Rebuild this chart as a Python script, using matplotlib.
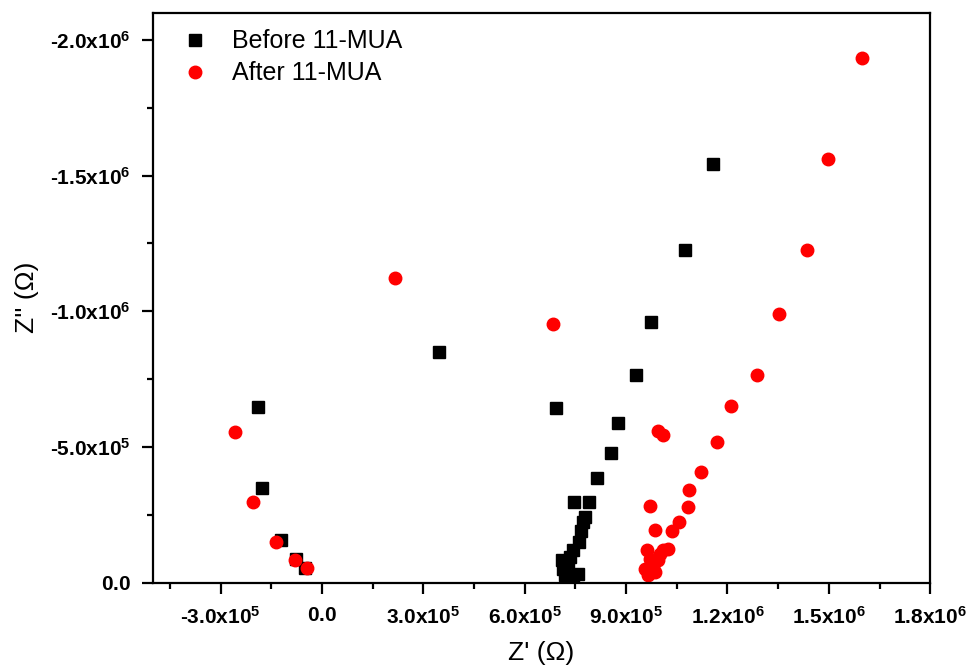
import matplotlib
matplotlib.use("Agg")
import matplotlib.pyplot as plt
from matplotlib.ticker import FixedLocator, FuncFormatter

plt.rcParams['font.family'] = ['Liberation Sans', 'DejaVu Sans']
plt.rcParams['mathtext.fontset'] = 'custom'
plt.rcParams['mathtext.rm'] = 'Liberation Sans'
plt.rcParams['mathtext.bf'] = 'Liberation Sans:bold'

# Before 11-MUA (Z' , Z'' in ohm)
before_zr = [-1.90e5, -1.76e5, -1.21e5, -7.75e4, -5.0e4, 3.46e5, 6.92e5,
             1.157e6, 1.074e6, 9.74e5, 9.30e5, 8.77e5, 8.54e5, 8.15e5,
             7.47e5, 7.91e5, 7.78e5, 7.72e5, 7.67e5, 7.62e5, 7.44e5,
             7.34e5, 7.29e5, 7.09e5, 7.14e5, 7.19e5, 7.44e5, 7.59e5]
before_zi = [-6.47e5, -3.49e5, -1.59e5, -8.8e4, -5.5e4, -8.49e5, -6.42e5,
             -1.544e6, -1.224e6, -9.6e5, -7.65e5, -5.88e5, -4.78e5, -3.87e5,
             -2.99e5, -2.99e5, -2.42e5, -2.23e5, -1.92e5, -1.50e5, -1.19e5,
             -9.6e4, -7.6e4, -8.2e4, -5.1e4, -2.7e4, -2.1e4, -3.3e4]

# After 11-MUA
after_zr = [-2.58e5, -2.03e5, -1.37e5, -7.96e4, -4.5e4, 2.16e5, 6.84e5,
            1.598e6, 1.498e6, 1.435e6, 1.352e6, 1.287e6, 1.210e6, 1.168e6,
            1.122e6, 1.087e6, 1.082e6, 1.057e6, 9.95e5, 1.010e6, 9.71e5,
            9.86e5, 1.035e6, 1.025e6, 1.010e6, 9.63e5, 9.95e5, 9.71e5,
            9.56e5, 9.80e5, 9.66e5, 9.86e5, 9.73e5, 1.0e6]
after_zi = [-5.56e5, -2.97e5, -1.50e5, -8.5e4, -5.5e4, -1.121e6, -9.52e5,
            -1.934e6, -1.562e6, -1.224e6, -9.89e5, -7.65e5, -6.50e5, -5.19e5,
            -4.07e5, -3.42e5, -2.78e5, -2.25e5, -5.60e5, -5.44e5, -2.84e5,
            -1.96e5, -1.89e5, -1.25e5, -1.19e5, -1.22e5, -8.2e4, -8.8e4,
            -5.1e4, -5.8e4, -2.7e4, -3.9e4, -6.4e4, -1.07e5]

x_major = [-3e5, 0, 3e5, 6e5, 9e5, 1.2e6, 1.5e6, 1.8e6]
x_minor = [-4.5e5, -1.5e5, 1.5e5, 4.5e5, 7.5e5, 1.05e6, 1.35e6, 1.65e6]
y_major = [0, -5e5, -1e6, -1.5e6, -2e6]
y_minor = [-2.5e5, -7.5e5, -1.25e6, -1.75e6]


def sci(v, pos=None):
    if v == 0:
        return r'$\mathbf{0.0}$'
    exp = 0
    m = abs(v)
    while m >= 10:
        m /= 10
        exp += 1
    sign = '\u2010' if v < 0 else ''
    return r'$\mathbf{%s%.1fx10^{%d}}$' % (sign, m, exp)


fig = plt.figure(figsize=(9.68, 6.66), dpi=100)
ax = fig.add_axes([0.158, 0.125, 0.803, 0.856])

ax.plot(before_zr, before_zi, 's', color='black', ms=8, mec='black',
        label='Before 11-MUA')
ax.plot(after_zr, after_zi, 'o', color='red', ms=9, mec='red',
        label='After 11-MUA')

ax.set_xlim(-5e5, 1.8e6)
ax.set_ylim(0, -2.1e6)

ax.xaxis.set_major_locator(FixedLocator(x_major))
ax.xaxis.set_minor_locator(FixedLocator(x_minor))
ax.yaxis.set_major_locator(FixedLocator(y_major))
ax.yaxis.set_minor_locator(FixedLocator(y_minor))
ax.xaxis.set_major_formatter(FuncFormatter(sci))
ax.yaxis.set_major_formatter(FuncFormatter(sci))

for s in ax.spines.values():
    s.set_linewidth(1.6)
ax.tick_params(which='major', direction='out', length=8, width=1.6,
               labelsize=15)
ax.tick_params(which='minor', direction='out', length=4.5, width=1.6)
ax.tick_params(axis='x', which='major', pad=9)
ax.tick_params(axis='y', which='major', pad=8)

ax.set_xlabel("Z' (\u03a9)", fontsize=19, labelpad=9)
ax.set_ylabel("Z'' (\u03a9)", fontsize=19, labelpad=8)

ax.legend(loc='upper left', bbox_to_anchor=(0.009, 1.01), frameon=False,
          numpoints=1, handlelength=1.0, handletextpad=1.0, fontsize=18,
          labelspacing=0.32)

fig.savefig('out.png', dpi=100)
